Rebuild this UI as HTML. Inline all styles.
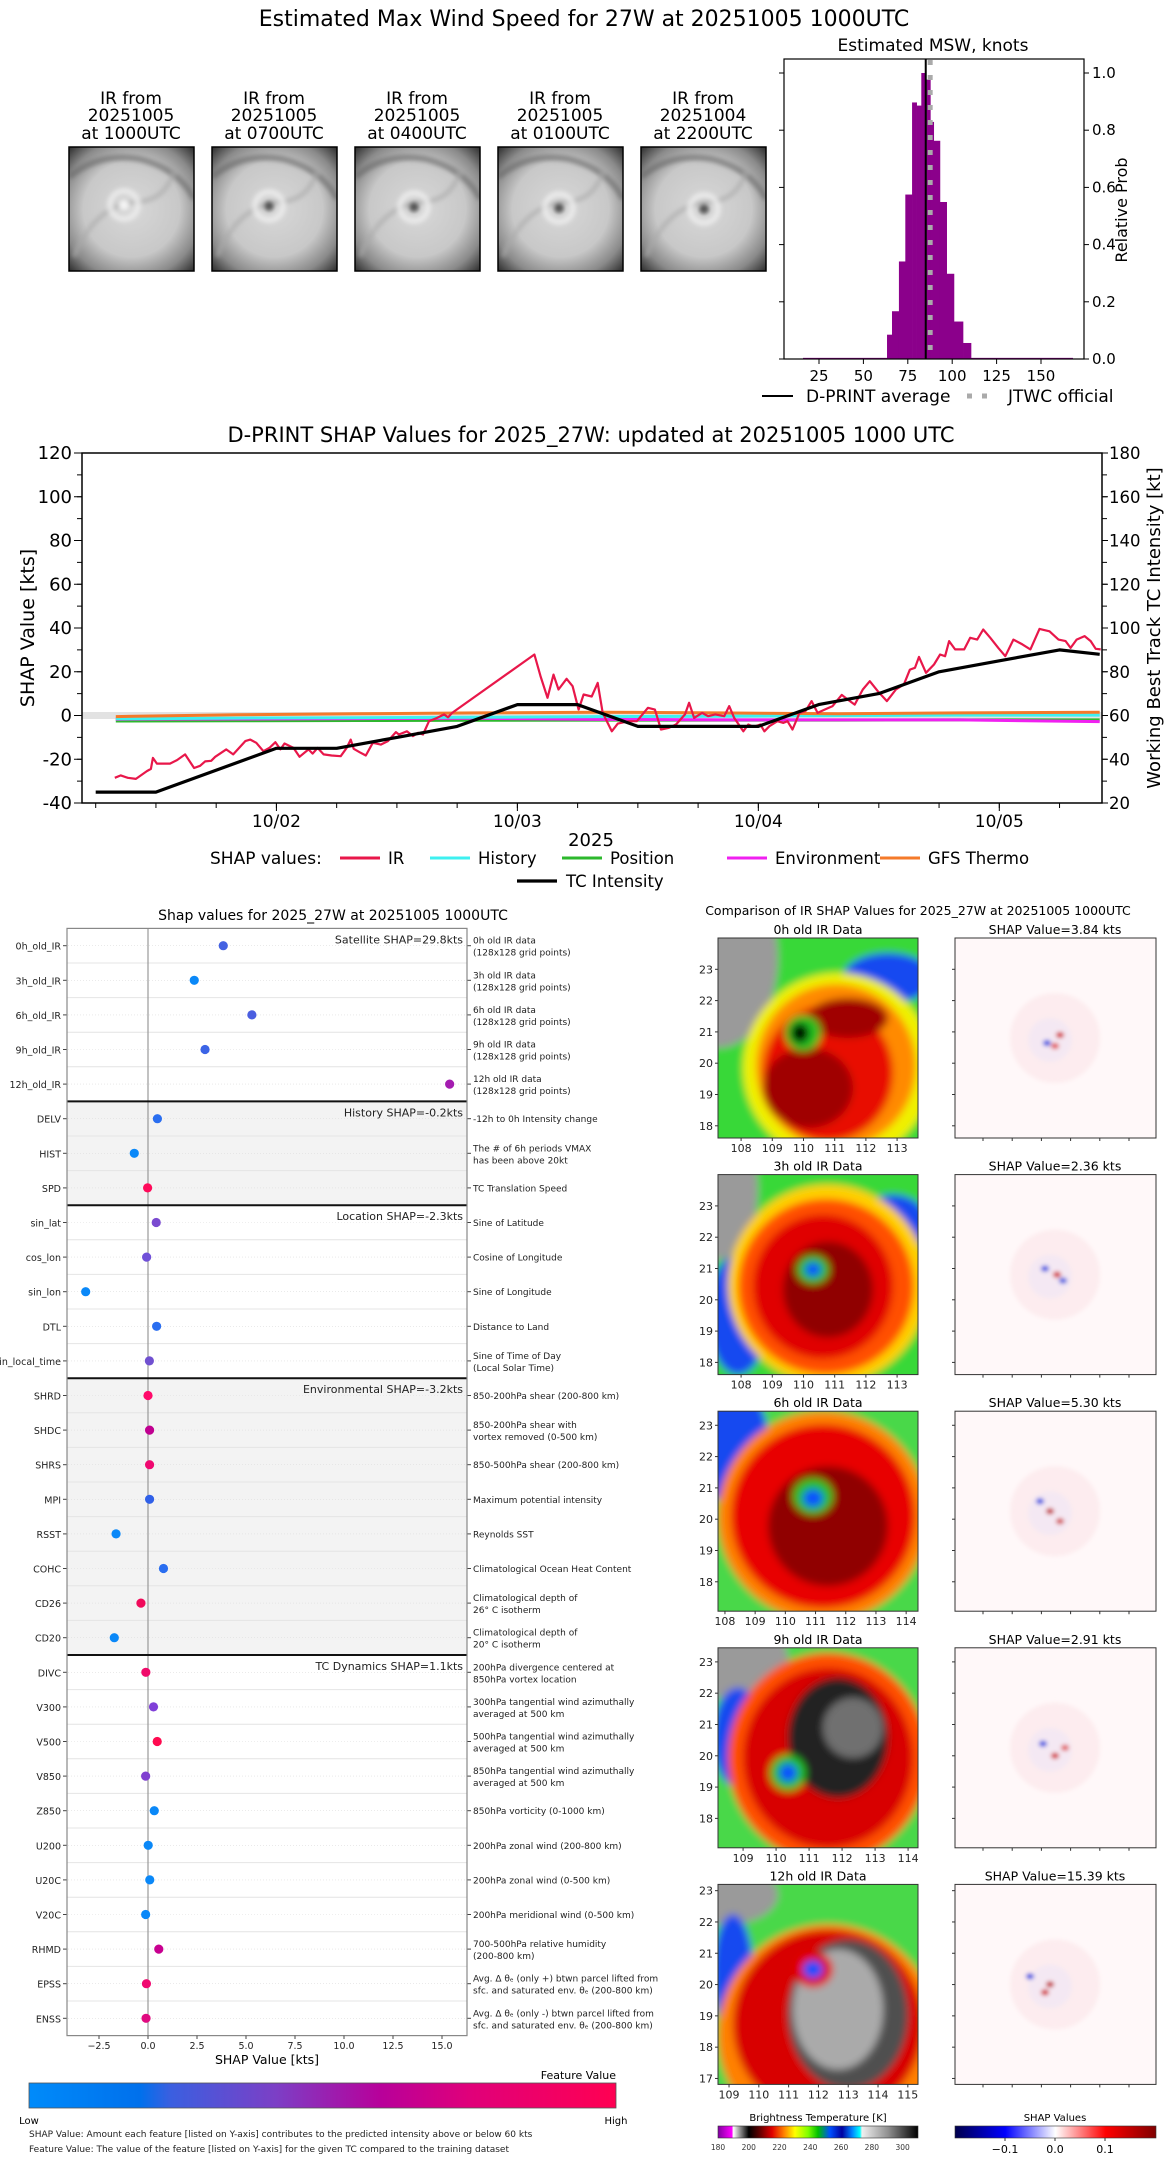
<!DOCTYPE html>
<html><head><meta charset="utf-8">
<style>
html,body{margin:0;padding:0;background:#fff;}
svg{display:block;font-family:"DejaVu Sans","Liberation Sans",sans-serif;}
</style></head>
<body>
<svg id="s" width="1168" height="2158" viewBox="0 0 1168 2158" xmlns="http://www.w3.org/2000/svg">
<defs>
<filter id="blur2" x="-10%" y="-10%" width="120%" height="120%"><feGaussianBlur stdDeviation="2"/></filter>
<filter id="blur4" x="-10%" y="-10%" width="120%" height="120%"><feGaussianBlur stdDeviation="4"/></filter>
<radialGradient id="thumbGrad" cx="50%" cy="50%" r="70%">
<stop offset="0" stop-color="#d8d8d8"/><stop offset="0.55" stop-color="#c8c8c8"/><stop offset="0.8" stop-color="#8a8a8a"/><stop offset="1" stop-color="#303030"/>
</radialGradient>
<linearGradient id="featGrad" x1="0" x2="1" y1="0" y2="0">
<stop offset="0" stop-color="#008bfa"/><stop offset="0.19" stop-color="#0070ec"/><stop offset="0.24" stop-color="#3a5fe0"/><stop offset="0.42" stop-color="#7c3fc6"/><stop offset="0.6" stop-color="#b8009a"/><stop offset="0.75" stop-color="#e0007a"/><stop offset="1" stop-color="#ff0052"/>
</linearGradient>
<linearGradient id="btGrad" x1="0" x2="1" y1="0" y2="0">
<stop offset="0" stop-color="#8000a0"/><stop offset="0.069" stop-color="#ff00ff"/><stop offset="0.077" stop-color="#ffffff"/><stop offset="0.115" stop-color="#808080"/><stop offset="0.154" stop-color="#000000"/><stop offset="0.2" stop-color="#500000"/><stop offset="0.27" stop-color="#e00000"/><stop offset="0.33" stop-color="#ff8000"/><stop offset="0.385" stop-color="#ffff00"/><stop offset="0.45" stop-color="#80ff00"/><stop offset="0.5" stop-color="#00c000"/><stop offset="0.56" stop-color="#0050ff"/><stop offset="0.62" stop-color="#0000a0"/><stop offset="0.67" stop-color="#0080ff"/><stop offset="0.71" stop-color="#00ffff"/><stop offset="0.72" stop-color="#f0f0f0"/><stop offset="0.85" stop-color="#909090"/><stop offset="1" stop-color="#000000"/>
</linearGradient>
<linearGradient id="seisGrad" x1="0" x2="1" y1="0" y2="0">
<stop offset="0" stop-color="#00004c"/><stop offset="0.25" stop-color="#0000ff"/><stop offset="0.5" stop-color="#ffffff"/><stop offset="0.75" stop-color="#ff0000"/><stop offset="1" stop-color="#800000"/>
</linearGradient>
</defs>
<text x="584" y="26" font-size="22" text-anchor="middle">Estimated Max Wind Speed for 27W at 20251005 1000UTC</text>
</svg>
<script>
const NS='http://www.w3.org/2000/svg';
const svg=document.getElementById('s');
function el(p,tag,a,t){const e=document.createElementNS(NS,tag);for(const k in a)e.setAttribute(k,a[k]);if(t!=null)e.textContent=t;p.appendChild(e);return e;}

/* ---------- DATA ---------- */
const thumbDates=["20251005","20251005","20251005","20251005","20251004"];
const thumbTimes=["1000","0700","0400","0100","2200"];

const histEdges=[63.3,66.1,70.0,73.6,77.4,80.0,82.6,85.1,87.7,89.6,93.1,96.9,101.0,106.1,110.6];
const histProb=[0.085,0.167,0.341,0.575,0.897,0.886,1.0,0.977,0.829,0.763,0.549,0.298,0.131,0.056];
const histXTicks=[25,50,75,100,125,150];
const histYTicks=[0.0,0.2,0.4,0.6,0.8,1.0];
const dprintAvg=85.1;
const jtwcOfficial=87.6;

const tcHours=[6,12,24,30,36,42,48,54,60,66,72,78,84,90,96,102,106];
const tcIntensity=[25,25,45,45,50,55,65,65,55,55,55,65,70,80,85,90,88];
const irHours=[7.9,8.5,9.2,10.0,11.1,11.5,11.7,12.1,13.4,14.1,14.9,15.8,16.4,16.9,17.5,17.9,19.0,19.7,20.9,21.4,22.0,22.7,23.3,23.9,24.4,24.8,25.7,26.3,27.2,27.6,28.1,28.7,29.5,30.4,31.0,31.4,31.7,32.3,32.9,33.6,34.4,35.1,35.9,36.2,37.0,37.6,38.1,38.6,39.2,40.0,40.7,41.1,41.5,49.7,50.3,51.0,51.6,52.1,52.9,53.5,54.1,54.6,55.4,56.0,56.5,57.4,58.0,59.1,59.9,61.0,61.7,62.3,63.1,63.8,64.7,65.1,65.6,66.4,67.0,67.7,68.6,69.1,69.6,70.5,71.0,71.5,72.2,72.6,73.1,73.9,74.5,74.9,75.4,76.1,76.7,77.3,77.9,78.6,79.4,80.3,80.9,81.6,82.4,83.1,83.9,84.8,85.7,86.5,87.1,87.6,88.0,88.7,89.5,90.1,90.6,91.0,91.6,92.5,93.1,93.8,94.4,95.1,95.9,96.6,97.4,98.3,99.1,100.0,101.0,101.9,102.6,103.1,103.7,104.5,105.1,105.6,106.1];
const irShap=[-28.5,-27.4,-28.5,-29,-25.4,-24.4,-19.4,-22,-22,-20.4,-17.8,-24,-23,-21,-20.7,-18.9,-15.5,-17.8,-11.7,-11,-12.5,-16.3,-14.8,-12.2,-15.5,-12.8,-14.8,-18.9,-15.5,-17.4,-14.8,-17.8,-18.3,-18.6,-14.8,-11,-15.2,-16.8,-18.3,-12.5,-13.3,-11.7,-7.6,-8.7,-7.2,-9.4,-7.9,-8.7,-2.6,-1.1,0.5,-0.8,1.2,27.9,18,8.1,18.7,11.9,16.8,13.4,2.7,9.6,8.7,14.9,1.2,-7.2,-3.7,-2.6,-2.6,3.5,2.7,-6.4,-5.6,-4.1,0.5,5.8,-1.1,1.2,-0.3,0.5,-0.3,4.3,-1.1,-7.2,-4.1,-5.2,-4.1,-7.2,-4.9,-2.6,-3.4,-2.6,-6.4,1.2,2,6.6,1.2,2.7,4.3,9.4,7.3,5,11.9,15.7,11.1,6.6,11.9,14.2,21,21.8,26.8,19.5,23.3,27.9,27.1,34,30.2,30.2,35.5,34.7,39.3,35.5,30.9,27.1,34.7,32.5,30.2,39.6,38.5,34.7,34,30.9,34.7,36.3,34,30.5,30.2];
const otherHours=[8,20,32,44,56,68,80,92,106];
const gfsShap=[-0.5,0.3,0.8,1.2,1.5,1.2,0.8,1.2,1.5];
const historyShap=[-1.5,-1.2,-1.0,-0.8,-0.5,-0.3,0.0,0.2,0.2];
const positionShap=[-2.5,-2.4,-2.3,-2.2,-2.1,-2.1,-2.1,-2.0,-2.0];
const envShap=[-1.7,-1.6,-1.4,-1.3,-1.8,-2.0,-2.0,-2.0,-2.8];
const leftTicks=[-40,-20,0,20,40,60,80,100,120];
const rightTicks=[20,40,60,80,100,120,140,160,180];
const dateTickHours=[24,48,72,96];
const dateTickLabels=["10/02","10/03","10/04","10/05"];

const featNames=["0h_old_IR","3h_old_IR","6h_old_IR","9h_old_IR","12h_old_IR","DELV","HIST","SPD","sin_lat","cos_lon","sin_lon","DTL","sin_local_time","SHRD","SHDC","SHRS","MPI","RSST","COHC","CD26","CD20","DIVC","V300","V500","V850","Z850","U200","U20C","V20C","RHMD","EPSS","ENSS"];
const featShap=[3.84,2.36,5.30,2.91,15.39,0.48,-0.70,-0.02,0.42,-0.07,-3.18,0.44,0.07,0.0,0.08,0.08,0.08,-1.63,0.79,-0.36,-1.72,-0.11,0.28,0.47,-0.12,0.32,0.01,0.09,-0.12,0.55,-0.08,-0.10];
const featColor=["#4462e2","#0a88f8","#4a5ee0","#3c64e6","#a41cb0","#2a6ef0","#0a88f8","#ff0a5a","#7a4ad0","#7050d8","#0a88f8","#2a6ef0","#7050d0","#ff0a6a","#c00090","#f00870","#3060e8","#0a88f8","#2a6ef0","#f00a5a","#0a88f8","#f00a6a","#8040d8","#ff0a50","#8040d0","#0a88f8","#0a88f8","#0a88f8","#0a88f8","#c80090","#f00870","#e00a80"];
const featDesc=[["0h old IR data","(128x128 grid points)"],["3h old IR data","(128x128 grid points)"],["6h old IR data","(128x128 grid points)"],["9h old IR data","(128x128 grid points)"],["12h old IR data","(128x128 grid points)"],["-12h to 0h Intensity change"],["The # of 6h periods VMAX","has been above 20kt"],["TC Translation Speed"],["Sine of Latitude"],["Cosine of Longitude"],["Sine of Longitude"],["Distance to Land"],["Sine of Time of Day","(Local Solar Time)"],["850-200hPa shear (200-800 km)"],["850-200hPa shear with","vortex removed (0-500 km)"],["850-500hPa shear (200-800 km)"],["Maximum potential intensity"],["Reynolds SST"],["Climatological Ocean Heat Content"],["Climatological depth of","26° C isotherm"],["Climatological depth of","20° C isotherm"],["200hPa divergence centered at","850hPa vortex location"],["300hPa tangential wind azimuthally","averaged at 500 km"],["500hPa tangential wind azimuthally","averaged at 500 km"],["850hPa tangential wind azimuthally","averaged at 500 km"],["850hPa vorticity (0-1000 km)"],["200hPa zonal wind (200-800 km)"],["200hPa zonal wind (0-500 km)"],["200hPa meridional wind (0-500 km)"],["700-500hPa relative humidity","(200-800 km)"],["Avg. Δ θₑ (only +) btwn parcel lifted from","sfc. and saturated env. θₑ (200-800 km)"],["Avg. Δ θₑ (only -) btwn parcel lifted from","sfc. and saturated env. θₑ (200-800 km)"]];
const groupNames=["Satellite SHAP=29.8kts","History SHAP=-0.2kts","Location SHAP=-2.3kts","Environmental SHAP=-3.2kts","TC Dynamics SHAP=1.1kts"];
const groupStart=[0,5,8,13,21];
const groupEnd=[5,8,13,21,32];
const shapXTicks=[-2.5,0.0,2.5,5.0,7.5,10.0,12.5,15.0];

const irPanelTitles=["0h old IR Data","3h old IR Data","6h old IR Data","9h old IR Data","12h old IR Data"];
const irPanelShap=["3.84","2.36","5.30","2.91","15.39"];
const irLatLabels=[[23,22,21,20,19,18],[23,22,21,20,19,18],[23,22,21,20,19,18],[23,22,21,20,19,18],[23,22,21,20,19,18,17]];
const irLonLabels=[[108,109,110,111,112,113],[108,109,110,111,112,113],[108,109,110,111,112,113,114],[109,110,111,112,113,114],[109,110,111,112,113,114,115]];
const irLatTop=[24.0,24.0,23.45,23.45,23.2];
const irLonLeft=[107.26,107.26,107.77,108.24,108.63];
const irLonScale=[31.2,31.2,30.2,33.0,29.8];
const btTicks=[180,200,220,240,260,280,300];
const seisTicks=[-0.1,0.0,0.1];

/* ---------- TOP: THUMBNAILS ---------- */
for(let k=0;k<5;k++){
  const x0=69+143*k, cx=x0+62;
  const t1=el(svg,'text',{x:cx,y:104,'font-size':17,'text-anchor':'middle'},'IR from');
  
  
  const t2=el(svg,'text',{x:cx,y:121,'font-size':17,'text-anchor':'middle'},thumbDates[k]);
  
  
  const t3=el(svg,'text',{x:cx,y:139,'font-size':17,'text-anchor':'middle'},'at '+thumbTimes[k]+'UTC');
  
  
  const g=el(svg,'g',{});
  
  
  const cp=el(svg.querySelector('defs'),'clipPath',{id:'tc'+k});
  el(cp,'rect',{x:x0,y:147,width:125,height:124});
  const gi=el(g,'g',{'clip-path':'url(#tc'+k+')'});
  el(gi,'rect',{x:x0,y:147,width:125,height:124,fill:'url(#thumbGrad)'});
  const ig=el(gi,'g',{filter:'url(#blur2)'});
  el(ig,'path',{d:`M${x0} ${147+30} q30 -25 70 -18 q40 10 55 40`,stroke:'#666',fill:'none','stroke-width':6,opacity:0.6});
  el(ig,'path',{d:`M${x0+5} ${147+110} q20 -50 60 -55 q30 0 40 -30`,stroke:'#aaa',fill:'none','stroke-width':5,opacity:0.6});
  el(ig,'circle',{cx:x0+55+k*2,cy:147+58+k,r:14,fill:'none',stroke:'#eee','stroke-width':6,opacity:0.8});
  el(ig,'circle',{cx:x0+55+k*2,cy:147+58+k,r:5,fill:k==0?'#f4f4f4':'#555'});
  el(g,'rect',{x:x0,y:147,width:125,height:124,fill:'none',stroke:'#000','stroke-width':1.5});
}

/* ---------- TOP: HISTOGRAM ---------- */
const hx=v=>774.6+1.776*v, hy=p=>359-286*p;
const hg=el(svg,'g',{});


const ht=el(hg,'text',{x:933,y:51,'font-size':17,'text-anchor':'middle'},'Estimated MSW, knots');


const tail=el(hg,'rect',{x:hx(16),y:hy(0.004),width:hx(168)-hx(16),height:hy(0)-hy(0.004),fill:'#8b008b'});


for(let i=0;i<histProb.length;i++){
  const b=el(hg,'rect',{x:hx(histEdges[i]),y:hy(histProb[i]),width:hx(histEdges[i+1])-hx(histEdges[i])+0.3,height:hy(0)-hy(histProb[i]),fill:'#8b008b'});
  
  
}
const jl=el(hg,'line',{x1:hx(jtwcOfficial),x2:hx(jtwcOfficial),y1:60,y2:358,stroke:'#aaa','stroke-width':5,'stroke-dasharray':'5 10'});


const dl=el(hg,'line',{x1:hx(dprintAvg),x2:hx(dprintAvg),y1:59,y2:359,stroke:'#000','stroke-width':2});


el(hg,'rect',{x:784,y:59,width:300,height:300,fill:'none',stroke:'#000','stroke-width':1.2});
histXTicks.forEach(v=>{
  el(hg,'line',{x1:hx(v),x2:hx(v),y1:359,y2:364,stroke:'#000'});
  const t=el(hg,'text',{x:hx(v),y:381,'font-size':15,'text-anchor':'middle'},String(v));
  
  
});
histYTicks.forEach(v=>{
  el(hg,'line',{x1:779,x2:784,y1:hy(v),y2:hy(v),stroke:'#000'});
  el(hg,'line',{x1:1084,x2:1089,y1:hy(v),y2:hy(v),stroke:'#000'});
  const t=el(hg,'text',{x:1092,y:hy(v)+5,'font-size':15},v.toFixed(1));
  
  
});
const rp=el(hg,'text',{x:0,y:0,'font-size':16,'text-anchor':'middle',transform:'translate(1127,210) rotate(-90)'},'Relative Prob');


el(hg,'line',{x1:762,x2:793,y1:396,y2:396,stroke:'#000','stroke-width':2});
const l1=el(hg,'text',{x:806,y:402,'font-size':17},'D-PRINT average');


el(hg,'line',{x1:967,x2:997,y1:396,y2:396,stroke:'#aaa','stroke-width':5,'stroke-dasharray':'5 10'});
const l2=el(hg,'text',{x:1008,y:402,'font-size':17},'JTWC official');



/* ---------- TIMELINE ---------- */
const tx=h=>95.7+(h-6)*10.04, tyL=v=>715.5-v*2.1875, tyR=k=>453+(180-k)*2.1875;
const tg=el(svg,'g',{});


const ttl=el(tg,'text',{x:591,y:442,'font-size':21,'text-anchor':'middle'},'D-PRINT SHAP Values for 2025_27W: updated at 20251005 1000 UTC');


el(tg,'rect',{x:82,y:tyL(1.6),width:1020,height:tyL(-1.6)-tyL(1.6),fill:'#e2e2e2'});
function poly(xs,ys,fy,color,w,name){
  const pts=xs.map((h,i)=>tx(h).toFixed(1)+','+fy(ys[i]).toFixed(1)).join(' ');
  const p=el(tg,'polyline',{points:pts,fill:'none',stroke:color,'stroke-width':w,'stroke-linejoin':'round'});
  
  
}
poly(otherHours,positionShap,tyL,'#2db82d',3,'position-series');
poly(otherHours,envShap,tyL,'#f020f0',3,'environment-series');
poly(otherHours,historyShap,tyL,'#3ef0f0',3,'history-series');
poly(otherHours,gfsShap,tyL,'#f47a2a',3,'gfs-thermo-series');
poly(irHours,irShap,tyL,'#e8174a',2.2,'ir-series');
poly(tcHours,tcIntensity,tyR,'#000',3.2,'tc-intensity-series');
el(tg,'rect',{x:82,y:453,width:1020,height:350,fill:'none',stroke:'#000','stroke-width':1.5});
for(let v=-40;v<=120;v+=10){el(tg,'line',{x1:77,x2:82,y1:tyL(v),y2:tyL(v),stroke:'#000'});}
for(let v=20;v<=180;v+=10){el(tg,'line',{x1:1102,x2:1107,y1:tyR(v),y2:tyR(v),stroke:'#000'});}
leftTicks.forEach(v=>{
  el(tg,'line',{x1:74,x2:82,y1:tyL(v),y2:tyL(v),stroke:'#000'});
  const t=el(tg,'text',{x:72,y:tyL(v)+6,'font-size':18,'text-anchor':'end'},String(v));
  
  
});
rightTicks.forEach(v=>{
  el(tg,'line',{x1:1102,x2:1108,y1:tyR(v),y2:tyR(v),stroke:'#000'});
  const t=el(tg,'text',{x:1109,y:tyR(v)+6,'font-size':16.5},String(v));
  
  
});
for(let h=6;h<=102;h+=6){el(tg,'line',{x1:tx(h),x2:tx(h),y1:803,y2:808,stroke:'#000'});}
dateTickHours.forEach((h,i)=>{
  el(tg,'line',{x1:tx(h),x2:tx(h),y1:803,y2:811,stroke:'#000'});
  const t=el(tg,'text',{x:tx(h),y:827,'font-size':17,'text-anchor':'middle'},dateTickLabels[i]);
  
  
});
const xl=el(tg,'text',{x:591,y:846,'font-size':18,'text-anchor':'middle'},'2025');


const yl=el(tg,'text',{x:0,y:0,'font-size':19,'text-anchor':'middle',transform:'translate(34,628) rotate(-90)'},'SHAP Value [kts]');


const yr=el(tg,'text',{x:0,y:0,'font-size':18,'text-anchor':'middle',transform:'translate(1160,628) rotate(-90)'},'Working Best Track TC Intensity [kt]');


const lg=el(tg,'g',{});


const lt=el(lg,'text',{x:210,y:864,'font-size':17},'SHAP values:');


const legItems=[[340,'IR','#e8174a'],[430,'History','#3ef0f0'],[562,'Position','#2db82d'],[727,'Environment','#f020f0'],[880,'GFS Thermo','#f47a2a']];
legItems.forEach(it=>{
  el(lg,'line',{x1:it[0],x2:it[0]+40,y1:858,y2:858,stroke:it[2],'stroke-width':3});
  const t=el(lg,'text',{x:it[0]+48,y:864,'font-size':16.5},it[1]);
  
  
});
el(lg,'line',{x1:517,x2:557,y1:881,y2:881,stroke:'#000','stroke-width':3.2});
const ltc=el(lg,'text',{x:566,y:887,'font-size':16.5},'TC Intensity');



/* ---------- BOTTOM LEFT: FEATURE SHAP ---------- */
const sx=v=>148+v*19.6, rowY=i=>945.7+34.6*i, top0=928.4;
const sg=el(svg,'g',{});


const st=el(sg,'text',{x:333,y:920,'font-size':14,'text-anchor':'middle'},'Shap values for 2025_27W at 20251005 1000UTC');


groupStart.forEach((s,gi)=>{
  if(gi%2==1){el(sg,'rect',{x:67,y:top0+34.6*s,width:400,height:34.6*(groupEnd[gi]-s),fill:'#f3f3f3'});}
});
for(let i=1;i<32;i++){el(sg,'line',{x1:67,x2:467,y1:top0+34.6*i,y2:top0+34.6*i,stroke:'#e4e4e4','stroke-width':1});}
el(sg,'line',{x1:148,x2:148,y1:top0,y2:top0+34.6*32,stroke:'#999','stroke-width':1.2});
groupStart.forEach((s,gi)=>{
  if(gi>0){el(sg,'line',{x1:67,x2:467,y1:top0+34.6*s,y2:top0+34.6*s,stroke:'#111','stroke-width':2});}
  const t=el(sg,'text',{x:463,y:top0+15+34.6*s,'font-size':11,'text-anchor':'end',fill:'#222'},groupNames[gi]);
  
  
});
featNames.forEach((n,i)=>{
  const y=rowY(i);
  el(sg,'line',{x1:68,x2:467,y1:y,y2:y,stroke:'#ddd','stroke-dasharray':'1 2','stroke-width':0.6});
  el(sg,'line',{x1:63,x2:67,y1:y,y2:y,stroke:'#444'});
  const t=el(sg,'text',{x:61,y:y+4,'font-size':9.5,'text-anchor':'end',fill:'#222'},n);
  
  
  const c=el(sg,'circle',{cx:sx(featShap[i]),cy:y,r:4.6,fill:featColor[i]});
  
  
  el(sg,'line',{x1:467,x2:471,y1:y,y2:y,stroke:'#444'});
  const d=featDesc[i];
  d.forEach((line,j)=>{
    const yy=d.length==1?y+3.5:y-2+j*12;
    const dt=el(sg,'text',{x:473,y:yy,'font-size':9,fill:'#222'},line);
    
    
  });
});
el(sg,'rect',{x:67,y:top0,width:400,height:34.6*32,fill:'none',stroke:'#888','stroke-width':1.2});
shapXTicks.forEach(v=>{
  el(sg,'line',{x1:sx(v),x2:sx(v),y1:2035.6,y2:2039,stroke:'#444'});
  const t=el(sg,'text',{x:sx(v),y:2049,'font-size':9.5,'text-anchor':'middle',fill:'#222'},(v<0?'−':'')+Math.abs(v).toFixed(1));
  
  
});
const sxl=el(sg,'text',{x:267,y:2064,'font-size':12.5,'text-anchor':'middle'},'SHAP Value [kts]');


const fvt=el(sg,'text',{x:616,y:2079,'font-size':11,'text-anchor':'end'},'Feature Value');


const fcb=el(sg,'rect',{x:29,y:2083,width:587,height:25,fill:'url(#featGrad)',stroke:'#555','stroke-width':0.8});


const lo=el(sg,'text',{x:29,y:2124,'font-size':10,'text-anchor':'middle'},'Low');


const hi=el(sg,'text',{x:616,y:2124,'font-size':10,'text-anchor':'middle'},'High');


const f1=el(sg,'text',{x:29,y:2137,'font-size':9,fill:'#222'},'SHAP Value: Amount each feature [listed on Y-axis] contributes to the predicted intensity above or below 60 kts');


const f2=el(sg,'text',{x:29,y:2152,'font-size':9,fill:'#222'},'Feature Value: The value of the feature [listed on Y-axis] for the given TC compared to the training dataset');



/* ---------- BOTTOM RIGHT: IR + SHAP MAPS ---------- */
const rg=el(svg,'g',{});


const rt=el(rg,'text',{x:918,y:915,'font-size':12.5,'text-anchor':'middle'},'Comparison of IR SHAP Values for 2025_27W at 20251005 1000UTC');


const irShapes=[
 [['rect',0,0,200,200,'#38d838'],['e',0,20,60,90,'#9a9a9a'],['e',170,40,45,25,'#1848f0'],['e',120,130,95,95,'#f0f000'],['e',118,128,80,82,'#ff8a00'],['e',110,135,65,68,'#e81000'],['e',90,150,45,40,'#a00000'],['e',130,80,40,20,'#a00000'],['e',85,95,18,18,'#20c020'],['e',82,95,9,10,'#000']],
 [['rect',0,0,200,200,'#38d838'],['e',0,15,40,70,'#9a9a9a'],['e',175,50,35,30,'#1848f0'],['e',20,140,30,60,'#1848f0'],['e',110,110,100,100,'#ffd000'],['e',108,112,88,88,'#ff5000'],['e',105,112,70,72,'#e00000'],['e',110,115,45,48,'#900000'],['e',95,95,16,14,'#20c020'],['e',95,95,8,7,'#1050ff']],
 [['rect',0,0,200,200,'#48d848'],['e',10,30,40,60,'#1848f0'],['e',105,105,105,105,'#ff8000'],['e',105,105,92,92,'#e80000'],['e',110,115,60,60,'#900000'],['e',95,85,20,18,'#20c020'],['e',95,87,10,9,'#1050ff']],
 [['rect',0,0,200,200,'#48d848'],['e',10,10,60,40,'#9a9a9a'],['e',20,90,25,50,'#1848f0'],['e',110,110,100,105,'#ff5000'],['e',110,110,85,90,'#d80000'],['e',120,90,50,60,'#202020'],['e',135,80,30,30,'#707070'],['e',70,125,18,18,'#20c020'],['e',70,125,9,9,'#1050ff']],
 [['rect',0,0,200,200,'#48d848'],['e',10,10,50,30,'#9a9a9a'],['e',15,90,20,60,'#1848f0'],['e',110,150,110,110,'#ff8000'],['e',110,140,95,95,'#d80000'],['e',130,130,60,75,'#505050'],['e',120,125,45,60,'#aaa'],['e',95,85,20,18,'#e00000'],['e',95,85,10,9,'#1050ff']]
];
const blobs=[[[5,-3,'#d00000'],[-8,5,'#2040e0'],[0,8,'#e04040']],[[2,0,'#d00000'],[-10,-6,'#2040e0'],[8,6,'#3050e0']],[[-5,0,'#c00000'],[-15,-10,'#2040e0'],[5,10,'#d04040']],[[0,8,'#d00000'],[-12,-4,'#2040e0'],[10,0,'#e05050']],[[-5,0,'#c00000'],[-25,-8,'#2040e0'],[-10,8,'#d00000']]];
for(let k=0;k<5;k++){
  const y0=938+236.6*k, x0=718, x1=955;
  const gt=el(rg,'text',{x:818,y:y0-4,'font-size':12.5,'text-anchor':'middle'},irPanelTitles[k]);
  
  
  const cp=el(svg.querySelector('defs'),'clipPath',{id:'ic'+k});
  el(cp,'rect',{x:x0,y:y0,width:200,height:200});
  const ig=el(rg,'g',{'clip-path':'url(#ic'+k+')'});
  
  
  const ib=el(ig,'g',{filter:'url(#blur4)'});
  irShapes[k].forEach(s=>{
    if(s[0]=='rect') el(ib,'rect',{x:x0-10,y:y0-10,width:220,height:220,fill:s[5]});
    else el(ib,'ellipse',{cx:x0+s[1],cy:y0+s[2],rx:s[3],ry:s[4],fill:s[5]});
  });
  el(rg,'rect',{x:x0,y:y0,width:200,height:200,fill:'none',stroke:'#333'});
  irLatLabels[k].forEach(lat=>{
    const y=y0+(irLatTop[k]-lat)*31.3;
    el(rg,'line',{x1:x0-3,x2:x0,y1:y,y2:y,stroke:'#333'});
    el(rg,'line',{x1:x1-3,x2:x1,y1:y,y2:y,stroke:'#333'});
    const t=el(rg,'text',{x:x0-5,y:y+4,'font-size':11,'text-anchor':'end',fill:'#222'},String(lat));
    
    
  });
  irLonLabels[k].forEach(lon=>{
    const x=x0+(lon-irLonLeft[k])*irLonScale[k];
    el(rg,'line',{x1:x,x2:x,y1:y0+200,y2:y0+203,stroke:'#333'});
    const t=el(rg,'text',{x:x,y:y0+214,'font-size':11,'text-anchor':'middle',fill:'#222'},String(lon));
    
    
  });
  const stt=el(rg,'text',{x:1055,y:y0-4,'font-size':12.5,'text-anchor':'middle'},'SHAP Value='+irPanelShap[k]+' kts');
  
  
  const cp2=el(svg.querySelector('defs'),'clipPath',{id:'sc'+k});
  el(cp2,'rect',{x:x1,y:y0,width:201,height:200});
  const sgm=el(rg,'g',{'clip-path':'url(#sc'+k+')'});
  
  
  el(sgm,'rect',{x:x1,y:y0,width:201,height:200,fill:'#fff8f9'});
  const bb=el(sgm,'g',{filter:'url(#blur2)'});
  el(bb,'circle',{cx:x1+100,cy:y0+100,r:45,fill:'#fbe4e8',opacity:0.6});
  el(bb,'circle',{cx:x1+95,cy:y0+102,r:22,fill:'#ece6f8',opacity:0.5});
  blobs[k].forEach(b=>{el(bb,'ellipse',{cx:x1+100+b[0],cy:y0+100+b[1],rx:4,ry:3,fill:b[2]});});
  el(rg,'rect',{x:x1,y:y0,width:201,height:200,fill:'none',stroke:'#333'});
  for(let j=0;j<6;j++){const x=983+29.2*j;el(rg,'line',{x1:x,x2:x,y1:y0+200,y2:y0+203,stroke:'#333'});}
}
const btl=el(rg,'text',{x:818,y:2121,'font-size':10,'text-anchor':'middle'},'Brightness Temperature [K]');


const btc=el(rg,'rect',{x:718,y:2126,width:200,height:12,fill:'url(#btGrad)',stroke:'#333','stroke-width':0.6});


btTicks.forEach(v=>{
  const x=718+(v-180)/130*200;
  const t=el(rg,'text',{x:x,y:2150,'font-size':7.5,'text-anchor':'middle',fill:'#333'},String(v));
  
  
});
const scl=el(rg,'text',{x:1055,y:2121,'font-size':10,'text-anchor':'middle'},'SHAP Values');


const scb=el(rg,'rect',{x:955,y:2126,width:201,height:12,fill:'url(#seisGrad)',stroke:'#333','stroke-width':0.6});


seisTicks.forEach(v=>{
  const x=1055+v*500;
  el(rg,'line',{x1:x,x2:x,y1:2138,y2:2141,stroke:'#333'});
  const t=el(rg,'text',{x:x,y:2153,'font-size':11,'text-anchor':'middle'},(v<0?'−':'')+Math.abs(v).toFixed(1));
  
  
});
</script>
</body></html>
